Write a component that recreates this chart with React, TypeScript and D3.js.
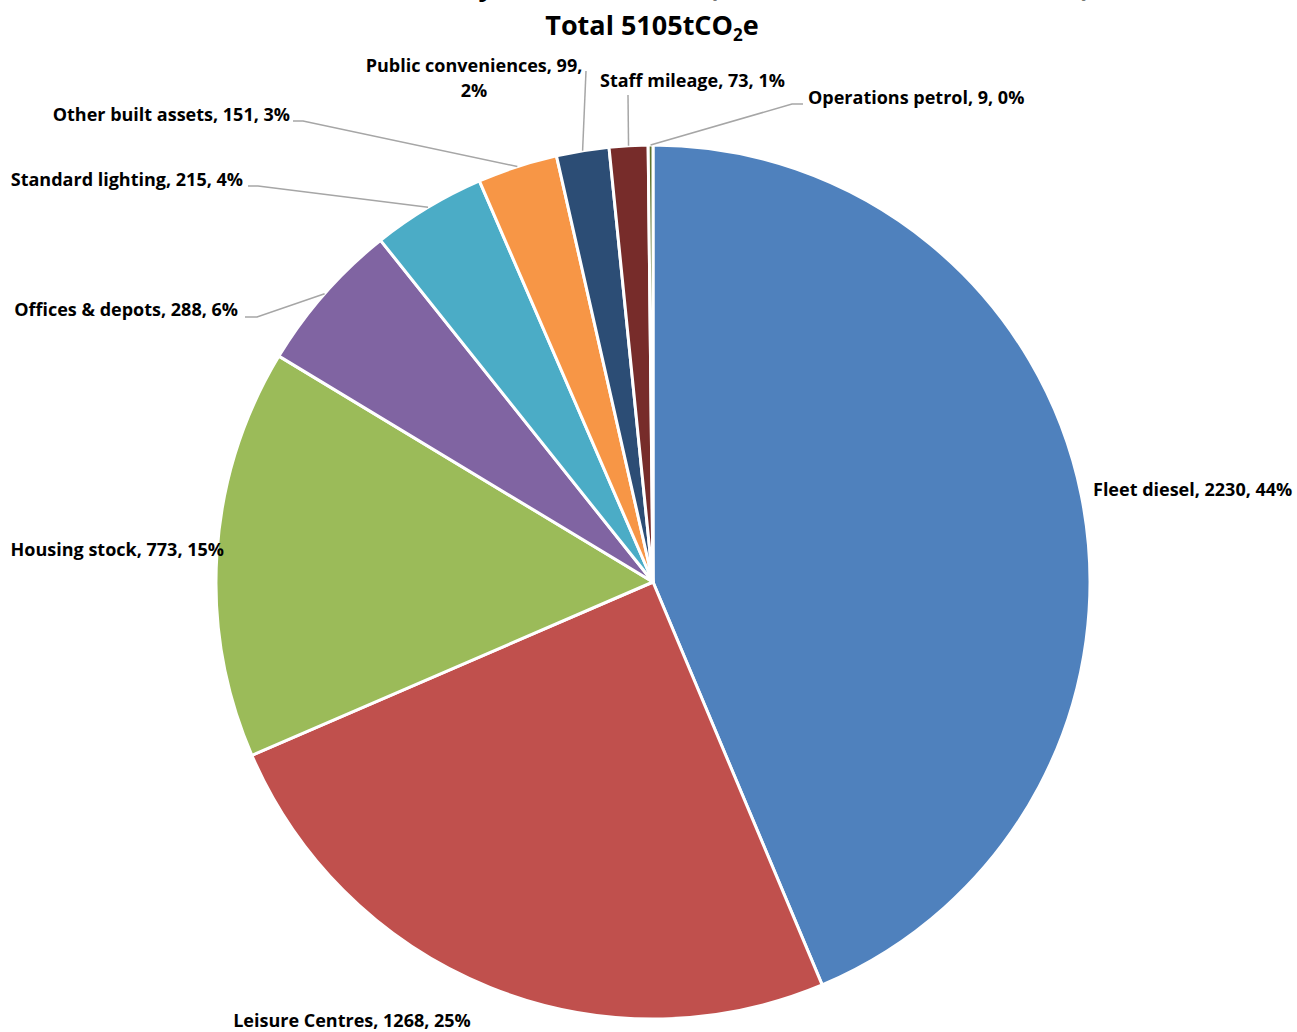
import React from "react";
import * as d3 from "d3";

const categories = [
  "Fleet diesel",
  "Leisure Centres",
  "Housing stock",
  "Offices & depots",
  "Standard lighting",
  "Other built assets",
  "Public conveniences",
  "Staff mileage",
  "Operations petrol",
];
const values = [2230, 1268, 773, 288, 215, 151, 99, 73, 9];
const percents = ["44%", "25%", "15%", "6%", "4%", "3%", "2%", "1%", "0%"];
const colors = [
  "#4F81BD",
  "#C0504D",
  "#9BBB59",
  "#8064A2",
  "#4BACC6",
  "#F79646",
  "#2C4D75",
  "#772C2A",
  "#5F7530",
];
const titleLine1 = "Council emissions by source 2019/20 (tCO₂e, and % of total tCO₂e)";
const titleLine2 = "Total 5105tCO";

type Lay = {
  x: number;
  y: number;
  anchor: string;
  lines?: { t: string; x: number; y: number; anchor: string }[];
  leader?: [number, number][];
};
const layout: Lay[] = [
  { x: 1093, y: 496, anchor: "start" },
  { x: 352, y: 1027, anchor: "middle" },
  { x: 224, y: 556, anchor: "end" },
  { x: 238, y: 316, anchor: "end", leader: [[257, 317], [245, 317]] },
  { x: 243, y: 186, anchor: "end", leader: [[258, 186], [248, 186]] },
  { x: 290, y: 121, anchor: "end", leader: [[303, 121], [293, 121]] },
  {
    x: 474,
    y: 72,
    anchor: "middle",
    lines: [
      { t: "Public conveniences, 99,", x: 474, y: 72, anchor: "middle" },
      { t: "2%", x: 474, y: 97, anchor: "middle" },
    ],
    leader: [[586, 71]],
  },
  { x: 600, y: 87, anchor: "start", leader: [[628, 95]] },
  { x: 808, y: 104, anchor: "start", leader: [[792, 104], [803, 104]] },
];

const W = 1297;
const H = 1032;
const cx = 653;
const cy = 582;
const R = 437;
const FS = 18;

export default function App() {
  const data = categories.map((c, i) => ({ c, v: values[i], p: percents[i], i }));
  const pie = d3
    .pie<any>()
    .value((d) => d.v)
    .sort(null);
  const arcs = pie(data);
  const arc = d3.arc<any>().innerRadius(0).outerRadius(R);
  const font = "'Open Sans', Lato, sans-serif";
  return (
    <svg
      width={W}
      height={H}
      style={{ position: "absolute", left: 0, top: 0, background: "#fff" }}
      fontFamily={font}
    >
      <text x={652} y={-4} textAnchor="middle" fontSize={27} fontWeight="bold">
        {titleLine1}
      </text>
      <text x={652} y={35} textAnchor="middle" fontSize={27} fontWeight="bold">
        {titleLine2}
        <tspan fontSize={17} dy={6}>2</tspan>
        <tspan dy={-6}>e</tspan>
      </text>
      <g transform={`translate(${cx},${cy})`}>
        {arcs.map((a, i) => (
          <path
            key={i}
            d={arc(a) as string}
            fill={colors[i]}
            stroke="#fff"
            strokeWidth={3}
            strokeLinejoin="round"
          />
        ))}
      </g>
      {arcs.map((a, i) => {
        const L = layout[i];
        const mid = (a.startAngle + a.endAngle) / 2;
        const ex = cx + R * Math.sin(mid);
        const ey = cy - R * Math.cos(mid);
        const label = `${categories[i]}, ${values[i]}, ${percents[i]}`;
        return (
          <g key={i}>
            {L.leader && (
              <polyline
                points={[[ex, ey], ...L.leader].map((p) => p.join(",")).join(" ")}
                fill="none"
                stroke="#A6A6A6"
                strokeWidth={1.5}
              />
            )}
            {L.lines ? (
              L.lines.map((ln, k) => (
                <text
                  key={k}
                  x={ln.x}
                  y={ln.y}
                  textAnchor={ln.anchor}
                  fontSize={FS}
                  fontWeight="bold"
                  fill="#000"
                >
                  {ln.t}
                </text>
              ))
            ) : (
              <text
                x={L.x}
                y={L.y}
                textAnchor={L.anchor}
                fontSize={FS}
                fontWeight="bold"
                fill="#000"
              >
                {label}
              </text>
            )}
          </g>
        );
      })}
    </svg>
  );
}
